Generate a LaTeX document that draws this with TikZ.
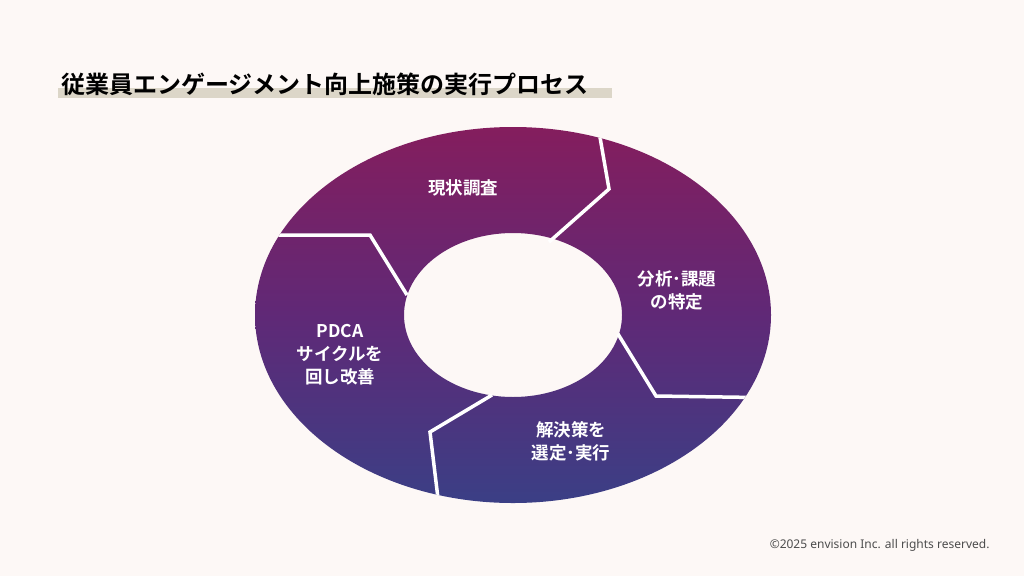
\documentclass[tikz,border=0pt]{standalone}
\usepackage{fontspec}
\setmainfont{Noto Sans}
\newfontfamily\jp{Noto Sans CJK JP}[BoldFont={* Bold}]
\definecolor{bg}{HTML}{FDF8F6}
\definecolor{bar}{HTML}{DCD6C8}
\pgfdeclareverticalshading{ringshade}{100bp}{
 color(0bp)=(rgb:red,0.13;green,0.51;blue,0.89);
 color(50bp)=(rgb:red,0.75;green,0.32;blue,0.93);
 color(100bp)=(rgb:red,0.94;green,0.10;blue,0.38)}
\tikzset{lab/.style={text=white,font=\jp\bfseries\fontsize{17.5}{23}\selectfont,align=center},
sep/.style={draw=white,line width=3.5pt,line join=miter}}
\begin{document}
\begin{tikzpicture}[x=1pt,y=-1pt]
\fill[bg] (0,0) rectangle (1024,576);
\useasboundingbox (0,0) rectangle (1024,576);
\fill[bar] (58,88) rectangle (612,98);
\node[anchor=west,inner sep=0pt,font=\jp\bfseries\fontsize{24}{28}\selectfont] (title) at (61,84) {従業員エンゲージメント向上施策の実行プロセス};
\shade[shading=ringshade,even odd rule]
 (513,315) ellipse [x radius=258,y radius=188] (513,315) ellipse [x radius=109,y radius=82];
\begin{scope}
\clip (513,315) ellipse [x radius=258,y radius=188];
\draw[sep] (597,120) -- (609,189) -- (549,242);
\draw[sep] (618,334) -- (656,396) -- (790,398);
\draw[sep] (492,395) -- (430,432) -- (440,515);
\draw[sep] (240,235) -- (370,235) -- (407,295);
\end{scope}
\node[lab] (a) at (463,188) {現状調査};
\node[lab] (b) at (677,290) {分析･課題\\の特定};
\node[lab] (c) at (571,441) {解決策を\\選定･実行};
\node[lab] (d) at (340,355) {PDCA\\サイクルを\\回し改善};
\node[anchor=east,text=black!70,font=\fontsize{12}{14}\selectfont] (copy) at (993,545) {©2025 envision Inc. all rights reserved.};
\end{tikzpicture}
\end{document}
